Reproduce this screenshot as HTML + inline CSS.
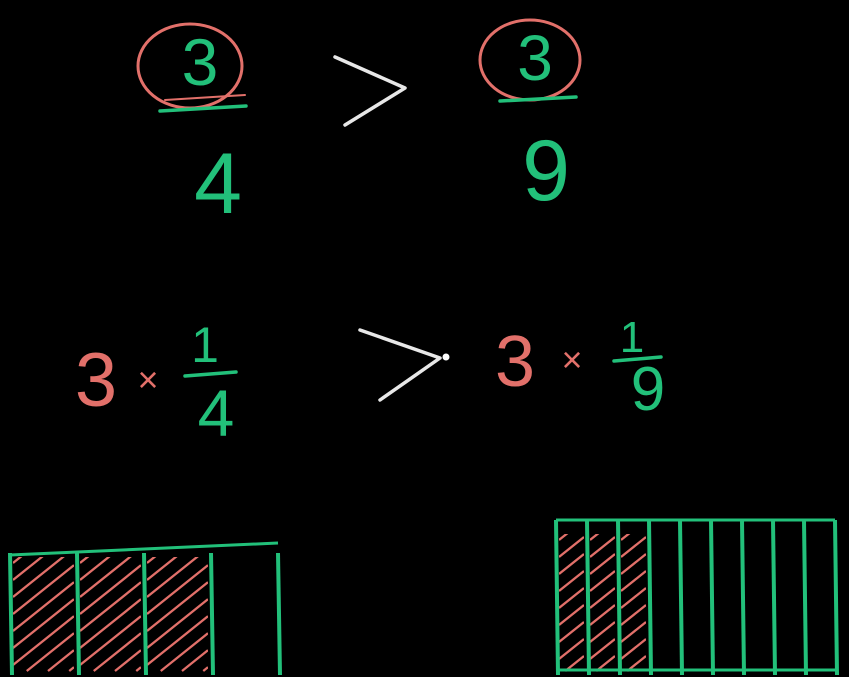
<!DOCTYPE html>
<html><head><meta charset="utf-8"><style>
html,body{margin:0;padding:0;background:#000;width:849px;height:677px;overflow:hidden;}
svg{display:block;}
text{font-family:"Liberation Sans",sans-serif;}
</style></head><body>
<svg id="board" width="849" height="677" viewBox="0 0 849 677" xmlns="http://www.w3.org/2000/svg">
<rect width="849" height="677" fill="#000"/>
<defs id="defs"></defs>
<g fill="none" stroke-linecap="round" stroke-linejoin="round">
  <ellipse cx="190" cy="66" rx="52" ry="42" stroke="#e2706a" stroke-width="3"/>
  <text x="200" y="85" font-size="66" fill="#22c07a" text-anchor="middle">3</text>
  <path d="M160 111 L246 106" stroke="#22c07a" stroke-width="3.5"/>
  <path d="M165 100 L245 95" stroke="#e2706a" stroke-width="2"/>
  <text x="218" y="213" font-size="86" fill="#22c07a" text-anchor="middle">4</text>
  <path d="M335 57 L405 88 L345 125" stroke="#e8e8e8" stroke-width="3.5"/>
  <ellipse cx="530" cy="60" rx="50" ry="40" stroke="#e2706a" stroke-width="3"/>
  <text x="535" y="80" font-size="64" fill="#22c07a" text-anchor="middle">3</text>
  <path d="M500 101 L576 97" stroke="#22c07a" stroke-width="3.5"/>
  <text x="546" y="200" font-size="86" fill="#22c07a" text-anchor="middle">9</text>
  <text x="96" y="406" font-size="76" fill="#e2706a" text-anchor="middle">3</text>
  <text x="148" y="392" font-size="36" fill="#e2706a" text-anchor="middle">×</text>
  <text x="205" y="362" font-size="50" fill="#22c07a" text-anchor="middle">1</text>
  <path d="M185 376 L236 372" stroke="#22c07a" stroke-width="3.5"/>
  <text x="216" y="436" font-size="66" fill="#22c07a" text-anchor="middle">4</text>
  <path d="M360 330 L440 358 L380 400" stroke="#e8e8e8" stroke-width="3.5"/>
  <circle cx="446" cy="357" r="3.5" fill="#fff" stroke="none"/>
  <text x="515" y="386" font-size="72" fill="#e2706a" text-anchor="middle">3</text>
  <text x="572" y="372" font-size="36" fill="#e2706a" text-anchor="middle">×</text>
  <text x="632" y="352" font-size="44" fill="#22c07a" text-anchor="middle">1</text>
  <path d="M614 361 L661 357" stroke="#22c07a" stroke-width="3.5"/>
  <text x="648" y="410" font-size="62" fill="#22c07a" text-anchor="middle">9</text>
</g>
<g id="bars" fill="none" stroke-linecap="butt"></g>
</svg>
<script>
const leftParts = 4;
const leftShaded = 3;
const rightParts = 9;
const rightShaded = 3;
const G = '#22c07a', R = '#e2706a';
const ns = 'http://www.w3.org/2000/svg';
const bars = document.getElementById('bars');
const defs = document.getElementById('defs');
let clipId = 0;
function line(parent,x1,y1,x2,y2,c,w){
  const l=document.createElementNS(ns,'line');
  l.setAttribute('x1',x1);l.setAttribute('y1',y1);l.setAttribute('x2',x2);l.setAttribute('y2',y2);
  l.setAttribute('stroke',c);l.setAttribute('stroke-width',w);
  parent.appendChild(l);return l;
}
function drawBar(x0,x1,top,bottom,parts,shaded,name,closed){
  const g=document.createElementNS(ns,'g');
  
  
  bars.appendChild(g);
  const w=(x1-x0)/parts;
  const vEnd=Math.min(bottom+10,675);
  const slope=0.8;
  for(let i=0;i<shaded;i++){
    const a=x0+i*w+3,b=x0+(i+1)*w-3;
    const cp=document.createElementNS(ns,'clipPath');
    const id='c'+(clipId++);
    cp.setAttribute('id',id);
    const r=document.createElementNS(ns,'rect');
    r.setAttribute('x',a);r.setAttribute('y',top+14);r.setAttribute('width',b-a);r.setAttribute('height',vEnd-top-16);
    cp.appendChild(r);defs.appendChild(cp);
    const hg=document.createElementNS(ns,'g');
    hg.setAttribute('clip-path','url(#'+id+')');
    
    
    g.appendChild(hg);
    for(let y=top+20;y<vEnd+(b-a)*slope;y+=17){
      let sx=a, sy=y;
      if(sy>vEnd-4){ sx=a+(sy-(vEnd-4))/slope; sy=vEnd-4; }
      if(sx>=b) continue;
      let ex=b, ey=y-(b-a)*slope;
      if(ey<top+8){ ex=a+(y-(top+8))/slope; ey=top+8; }
      if(ex<=sx) continue;
      const h=line(hg,sx,sy,ex,ey,R,2.3);
      
      
    }
  }
  const t=line(g,x0,top+(closed?0:12),x1,top,G,3);
  
  
  if(closed){const bt=line(g,x0,bottom,x1,bottom,G,3);
    
    }
  for(let i=0;i<=parts;i++){
    const x=x0+i*w;
    const v=line(g,x,top+(closed?0:10),x+2,vEnd,G,4);
    
    
  }
}
drawBar(10,278,543,665,leftParts,leftShaded,'fourths-bar',false);
drawBar(556,835,520,670,rightParts,rightShaded,'ninths-bar',true);
</script>
</body></html>
